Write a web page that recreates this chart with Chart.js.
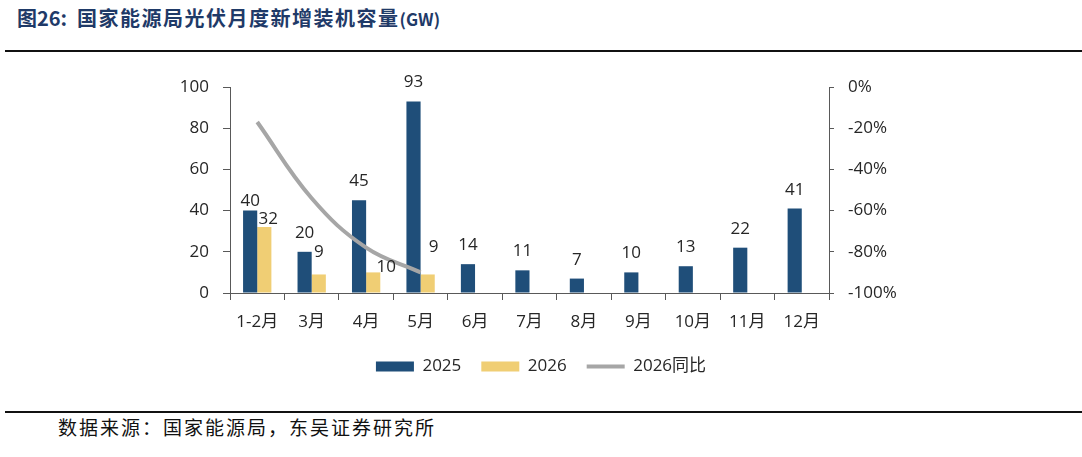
<!DOCTYPE html>
<html lang="zh">
<head>
<meta charset="UTF-8" />
<title>国家能源局光伏月度新增装机容量(GW)</title>
<script src="https://cdn.jsdelivr.net/npm/chart.js@4.4.0/dist/chart.umd.min.js"></script>
<style>
  body { margin: 0; width: 1082px; height: 457px; background: #fff; position: relative; overflow: hidden; }
  #title { position: absolute; left: 17px; top: 6px; font-family: "Noto Sans CJK SC", sans-serif; font-size: 20px; line-height: 24px; font-weight: 700; color: #1f3a68; white-space: nowrap; }
  #title .num { margin-right: 10px; }
  #title .txt { letter-spacing: 1.5px; }
  #title .unit { font-size: 17px; letter-spacing: 0; }
  .rule { position: absolute; left: 5px; right: 0; height: 2px; background: #111; }
  #wrap { position: absolute; left: 0; top: 60px; width: 1082px; height: 340px; }
  #source { position: absolute; left: 58px; top: 415px; font-family: "Noto Sans CJK SC", sans-serif; font-size: 19px; line-height: 24px; letter-spacing: 2px; color: #111; white-space: nowrap; }
</style>
</head>
<body>
<div id="title"><span class="num">图26:</span><span class="txt">国家能源局光伏月度新增装机容量</span><span class="unit">(GW)</span></div>
<div class="rule" style="top:50px"></div>
<div id="wrap"><canvas id="myChart" width="1082" height="340"></canvas></div>
<div class="rule" style="top:411px"></div>
<div id="source">数据来源：国家能源局，东吴证券研究所</div>

<script>
  const months = ['1-2月', '3月', '4月', '5月', '6月', '7月', '8月', '9月', '10月', '11月', '12月'];
  const added2025 = [40, 20, 45, 93, 14, 11, 7, 10, 13, 22, 41];
  const added2026 = [32, 9, 10, 9, null, null, null, null, null, null, null];
  const yoy2026 = [-17, -54, -78, -90, null, null, null, null, null, null, null];  // %

  const tickFont = { family: '"Open Sans", "Noto Sans CJK SC", sans-serif', size: 17 };
  const inkColor = '#262626';
  const axisColor = '#595959';

  // value labels above the bars, a few moved by hand like in the source sheet
  const barLabels = {
    id: 'barLabels',
    afterDatasetsDraw(chart, args, opts) {
      const ctx = chart.ctx;
      ctx.save();
      ctx.font = '17px "Open Sans", sans-serif';
      ctx.fillStyle = inkColor;
      ctx.textAlign = 'center';
      ctx.textBaseline = 'alphabetic';
      chart.data.datasets.forEach((ds, di) => {
        if (ds.type === 'line') return;
        chart.getDatasetMeta(di).data.forEach((bar, i) => {
          const v = ds.data[i];
          if (v == null) return;
          const n = opts.nudge[di + ':' + i] || [0, 0];
          ctx.fillText(String(v), bar.x + n[0], bar.y - opts.gap + n[1]);
        });
      });
      ctx.restore();
    }
  };

  const ctx = document.getElementById('myChart').getContext('2d');
  const myChart = new Chart(ctx, {
    type: 'bar',
    data: {
      labels: months,
      datasets: [
        {
          label: '2025',
          data: added2025,
          backgroundColor: '#1f4e79',
          yAxisID: 'y',
          order: 1,
          pointStyle: 'rect',
          categoryPercentage: 0.52,
          barPercentage: 1
        },
        {
          label: '2026',
          data: added2026,
          backgroundColor: '#f0ce74',
          yAxisID: 'y',
          order: 1,
          pointStyle: 'rect',
          categoryPercentage: 0.52,
          barPercentage: 1
        },
        {
          type: 'line',
          label: '2026同比',
          data: yoy2026,
          borderColor: '#a6a6a6',
          backgroundColor: '#a6a6a6',
          borderWidth: 4,
          pointRadius: 0,
          pointStyle: 'line',
          tension: 0.4,
          yAxisID: 'y1',
          order: 0
        }
      ]
    },
    options: {
      responsive: false,
      animation: false,
      layout: { padding: { top: 27, left: 0, right: 0, bottom: 15 } },
      plugins: {
        tooltip: { enabled: false },
        legend: {
          position: 'bottom',
          labels: {
            usePointStyle: true,
            pointStyleWidth: 38,
            boxHeight: 10,
            padding: 20,
            color: inkColor,
            font: tickFont,
            sort: (a, b) => a.datasetIndex - b.datasetIndex,
            generateLabels(chart) {
              const items = Chart.defaults.plugins.legend.labels.generateLabels(chart);
              items.forEach(it => {
                if (it.pointStyle === 'line') { it.lineWidth = 4; it.strokeStyle = '#a6a6a6'; }
                else { it.lineWidth = 0; }
              });
              return items;
            }
          }
        },
        barLabels: {
          gap: 14,
          nudge: { '0:0': [0, 9], '1:0': [4, 11], '1:1': [0, -3], '1:2': [13, 14], '1:3': [6, -8] }
        }
      },
      scales: {
        x: {
          grid: { display: true, drawOnChartArea: false, offset: true, tickLength: 7, color: axisColor },
          border: { color: axisColor },
          ticks: { color: inkColor, font: tickFont, padding: 12 },
          afterFit(s) { s.height = 45; }
        },
        y: {
          position: 'left',
          min: 0,
          max: 100,
          ticks: { stepSize: 20, color: inkColor, font: tickFont, padding: 14 },
          grid: { drawOnChartArea: false, tickLength: 7, color: axisColor },
          border: { color: axisColor },
          afterFit(s) { s.width = 230; }
        },
        y1: {
          position: 'right',
          min: -100,
          max: 0,
          ticks: { stepSize: 20, color: inkColor, font: tickFont, padding: 14, callback: v => v + '%' },
          grid: { drawOnChartArea: false, tickLength: 5, color: axisColor },
          border: { color: axisColor },
          afterFit(s) { s.width = 253; }
        }
      }
    },
    plugins: [barLabels]
  });
</script>
</body>
</html>
